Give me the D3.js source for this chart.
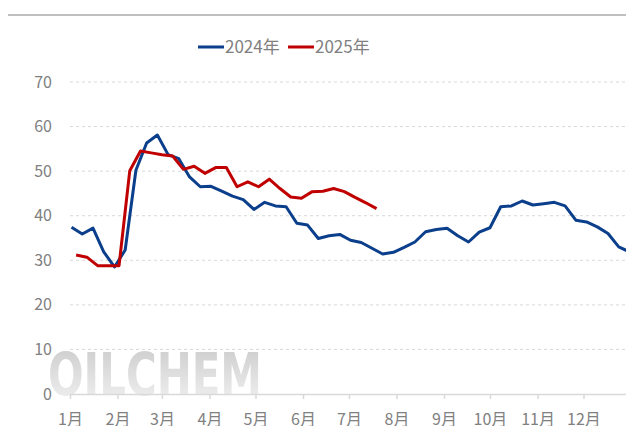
<!DOCTYPE html>
<html>
<head>
<meta charset="utf-8">
<script src="https://cdn.jsdelivr.net/npm/d3@7"></script>
<style>
  body { margin: 0; background: #fff; }
  svg { display: block; font-family: "Noto Sans CJK SC", "Open Sans", sans-serif; }
</style>
</head>
<body>
<div id="chart"></div>
<script>
// chart size
var svgWidth = 626;
var svgHeight = 426;

// month tick labels
var monthLabels = ["1月", "2月", "3月", "4月", "5月", "6月", "7月", "8月", "9月", "10月", "11月", "12月"];

// weekly dates (month-day, drawn on a 2024 calendar)
var dates2024 = ["01-02", "01-09", "01-16", "01-23", "01-30", "02-06", "02-13", "02-20", "02-27",
  "03-05", "03-12", "03-19", "03-26", "04-02", "04-09", "04-16", "04-23", "04-30",
  "05-07", "05-14", "05-21", "05-28", "06-04", "06-11", "06-18", "06-25",
  "07-02", "07-09", "07-16", "07-23", "07-30", "08-06", "08-13", "08-20", "08-27",
  "09-03", "09-10", "09-17", "09-24", "10-01", "10-08", "10-15", "10-22", "10-29",
  "11-05", "11-12", "11-19", "11-26", "12-03", "12-10", "12-17", "12-24", "12-31"];
var values2024 = [37.4, 35.9, 37.2, 31.9, 28.5, 32.3, 50.2, 56.3, 58.1,
  53.7, 52.8, 48.7, 46.5, 46.6, 45.5, 44.4, 43.6, 41.4,
  43.0, 42.2, 42.0, 38.3, 37.9, 34.9, 35.5, 35.8,
  34.5, 34.0, 32.7, 31.4, 31.8, 32.9, 34.1, 36.4, 36.9,
  37.2, 35.5, 34.1, 36.3, 37.3, 42.0, 42.2, 43.3, 42.4,
  42.7, 43.0, 42.2, 39.0, 38.6, 37.5, 36.0, 33.0, 31.9];

var dates2025 = ["01-05", "01-12", "01-19", "01-26", "02-02", "02-09", "02-16", "02-23",
  "03-01", "03-08", "03-15", "03-22", "03-29", "04-05", "04-12", "04-19", "04-26",
  "05-03", "05-10", "05-17", "05-24", "05-31", "06-07", "06-14", "06-21", "06-28",
  "07-05", "07-12", "07-19"];
var values2025 = [31.2, 30.7, 28.8, 28.8, 28.8, 50.1, 54.5, 54.1,
  53.7, 53.4, 50.4, 51.1, 49.5, 50.8, 50.8, 46.5, 47.6,
  46.5, 48.2, 46.1, 44.2, 43.9, 45.4, 45.5, 46.1, 45.4,
  44.1, 42.9, 41.6];

var yTicks = [0, 10, 20, 30, 40, 50, 60, 70];

var seriesNames = ["2024年", "2025年"];
var seriesColors = ["#0b3f8c", "#c00000"];

// plot area
var plot = { left: 70, right: 631, top: 82, bottom: 394 };

var parseDay = d3.timeParse("%Y-%m-%d");
function toDate(md) { return parseDay("2024-" + md); }

var svg = d3.select("#chart")
  .append("svg")
  .attr("width", svgWidth)
  .attr("height", svgHeight);

var x = d3.scaleTime()
  .domain([toDate("01-01"), parseDay("2025-01-01")])
  .range([plot.left, plot.right]);

var y = d3.scaleLinear()
  .domain([0, 70])
  .range([plot.bottom, plot.top]);

// top rule
svg.append("line")
  .attr("x1", 8).attr("x2", svgWidth)
  .attr("y1", 15).attr("y2", 15)
  .attr("stroke", "#bfbfbf")
  .attr("stroke-width", 2);

// watermark
var defs = svg.append("defs");
var grad = defs.append("linearGradient")
  .attr("id", "wm")
  .attr("x1", 0).attr("x2", 0).attr("y1", 0).attr("y2", 1);
grad.append("stop").attr("offset", "0%").attr("stop-color", "#cacaca");
grad.append("stop").attr("offset", "100%").attr("stop-color", "#f4f4f4");

svg.append("text")
  .attr("x", 48)
  .attr("y", 352)
  .attr("dominant-baseline", "hanging")
  .attr("font-family", "DejaVu Sans")
  .attr("font-weight", "bold")
  .attr("font-size", 58)
  .attr("textLength", 214)
  .attr("lengthAdjust", "spacingAndGlyphs")
  .attr("fill", "url(#wm)")
  .text("OILCHEM");

// gridlines
svg.append("g")
  .selectAll("line")
  .data(yTicks.filter(d => d > 0))
  .enter()
  .append("line")
  .attr("x1", plot.left).attr("x2", svgWidth)
  .attr("y1", d => y(d)).attr("y2", d => y(d))
  .attr("stroke", "#d9d9d9")
  .attr("stroke-dasharray", "3,3");

// y labels
svg.append("g")
  .selectAll("text")
  .data(yTicks)
  .enter()
  .append("text")
  .attr("x", 52)
  .attr("y", d => y(d))
  .attr("dy", "0.35em")
  .attr("text-anchor", "end")
  .attr("font-size", 16)
  .attr("fill", "#808080")
  .text(d => d);

// x axis
var monthTicks = d3.timeMonth.range(toDate("01-01"), parseDay("2025-01-01"));
var xAxis = d3.axisBottom(x)
  .tickValues(monthTicks)
  .tickFormat((d, i) => monthLabels[i])
  .tickSize(5)
  .tickSizeOuter(0);

var xg = svg.append("g")
  .attr("transform", `translate(0, ${plot.bottom})`)
  .call(xAxis);
xg.select(".domain").attr("stroke", "#d9d9d9").attr("stroke-width", 1.5);
xg.selectAll(".tick line").attr("stroke", "#d9d9d9").attr("stroke-width", 1.5);
xg.selectAll(".tick text")
  .attr("font-size", 16)
  .attr("font-family", "Noto Sans CJK SC")
  .attr("fill", "#808080")
  .attr("y", 20)
  .attr("dy", "0.71em");

// lines
var line = d3.line()
  .x(d => x(d.date))
  .y(d => y(d.value));

var series = [
  dates2024.map((d, i) => ({ date: toDate(d), value: values2024[i] })),
  dates2025.map((d, i) => ({ date: toDate(d), value: values2025[i] }))
];

series.forEach(function(s, i) {
  svg.append("path")
    .datum(s)
    .attr("fill", "none")
    .attr("stroke", seriesColors[i])
    .attr("stroke-width", 3)
    .attr("stroke-linejoin", "round")
    .attr("d", line);
});

// legend
var legend = svg.append("g");
var legendX = [198, 288];
seriesNames.forEach(function(name, i) {
  legend.append("line")
    .attr("x1", legendX[i]).attr("x2", legendX[i] + 26)
    .attr("y1", 47).attr("y2", 47)
    .attr("stroke", seriesColors[i])
    .attr("stroke-width", 3);
  legend.append("text")
    .attr("x", legendX[i] + 27)
    .attr("y", 47)
    .attr("dy", "0.35em")
    .attr("font-size", 17)
    .attr("fill", "#808080")
    .text(name);
});
</script>
</body>
</html>
